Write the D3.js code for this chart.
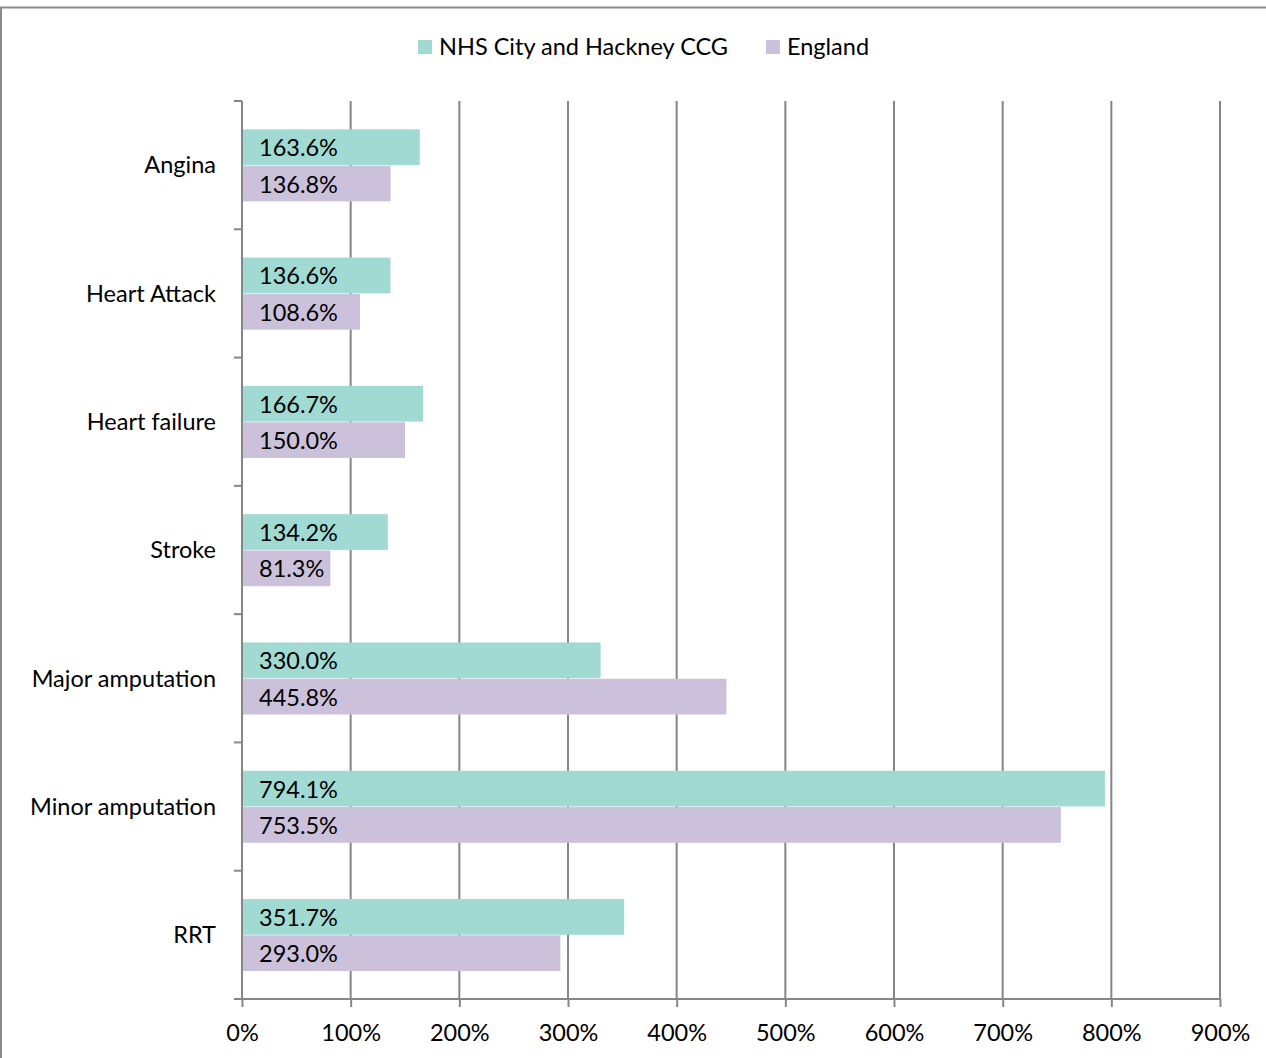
<!DOCTYPE html>
<html><head><meta charset="utf-8">
<script src="https://cdn.jsdelivr.net/npm/d3@7"></script>
<style>body{margin:0;background:#fff}svg{display:block}text{font-family:Lato,"Open Sans",sans-serif;fill:#000}</style>
</head><body><svg id="c" width="1266" height="1058"></svg>
<script>
const categories = ["Angina","Heart Attack","Heart failure","Stroke","Major amputation","Minor amputation","RRT"];
const seriesNames = ["NHS City and Hackney CCG","England"];
const cityHackney = [163.6,136.6,166.7,134.2,330.0,794.1,351.7];
const england = [136.8,108.6,150.0,81.3,445.8,753.5,293.0];
const tickValues = [0,100,200,300,400,500,600,700,800,900];
const colors = ["#a0dad3","#ccc1da"];
const FS = 23.5;

const svg = d3.select("#c");
const W=1266,H=1058;
svg.append("rect").attr("x",1).attr("y",7.5).attr("width",W+10).attr("height",H).attr("fill","none").attr("stroke","#8a8a8a").attr("stroke-width",2);

const x = d3.scaleLinear().domain([0,900]).range([242,1220]);
const y = d3.scaleBand().domain(categories).range([101,999]);
const inner = d3.scaleBand().domain(seriesNames).range([0,y.bandwidth()]).paddingOuter(0.766).paddingInner(0);

// gridlines
svg.append("g").selectAll("line").data(tickValues.slice(1)).join("line")
 .attr("x1",d=>x(d)).attr("x2",d=>x(d)).attr("y1",101).attr("y2",999)
 .attr("stroke","#868686").attr("stroke-width",2);

const series=[cityHackney,england];
series.forEach((vals,si)=>{
  const g=svg.append("g");
  g.selectAll("rect").data(vals).join("rect")
   .attr("x",x(0)).attr("y",(d,i)=>y(categories[i])+inner(seriesNames[si])+0.5)
   .attr("width",d=>x(d)-x(0)).attr("height",inner.bandwidth()-0.6).attr("fill",colors[si]);
  g.selectAll("text").data(vals).join("text")
   .attr("x",x(0)+17).attr("y",(d,i)=>y(categories[i])+inner(seriesNames[si])+inner.bandwidth()/2+1)
   .attr("dy","0.35em").attr("font-size",FS).text(d=>d.toFixed(1)+"%");
});

// y axis
const ya=svg.append("g").attr("transform","translate(242,0)");
ya.append("line").attr("x1",0).attr("x2",0).attr("y1",101).attr("y2",999).attr("stroke","#868686").attr("stroke-width",2);
const bounds=categories.map(c=>y(c)).concat([999]);
ya.selectAll("line.t").data(bounds).join("line").attr("class","t").attr("x1",-8).attr("x2",0).attr("y1",d=>d).attr("y2",d=>d).attr("stroke","#868686").attr("stroke-width",2);
ya.selectAll("text").data(categories).join("text").attr("x",-26).attr("y",d=>y(d)+y.bandwidth()/2).attr("dy","0.35em").attr("text-anchor","end").attr("font-size",FS).text(d=>d);

// x axis
const xa=svg.append("g").attr("transform","translate(0,999)").call(d3.axisBottom(x).tickValues(tickValues).tickSize(8).tickSizeOuter(0).tickFormat(d=>d+"%"));
xa.select(".domain").attr("stroke","#868686").attr("stroke-width",2).attr("d","M234,0H1220");
xa.selectAll(".tick line").attr("stroke","#868686").attr("stroke-width",2);
xa.selectAll(".tick text").attr("font-size",FS).attr("font-family","Lato,sans-serif").attr("fill","#000").attr("y",34).attr("dy","0.35em");

// legend
const lg=svg.append("g");
const lx=[418,766];
seriesNames.forEach((n,i)=>{
  lg.append("rect").attr("x",lx[i]).attr("y",40).attr("width",14).attr("height",14).attr("fill",colors[i]);
  lg.append("text").attr("x",lx[i]+21).attr("y",47).attr("dy","0.35em").attr("font-size",FS).text(n);
});
</script></body></html>
